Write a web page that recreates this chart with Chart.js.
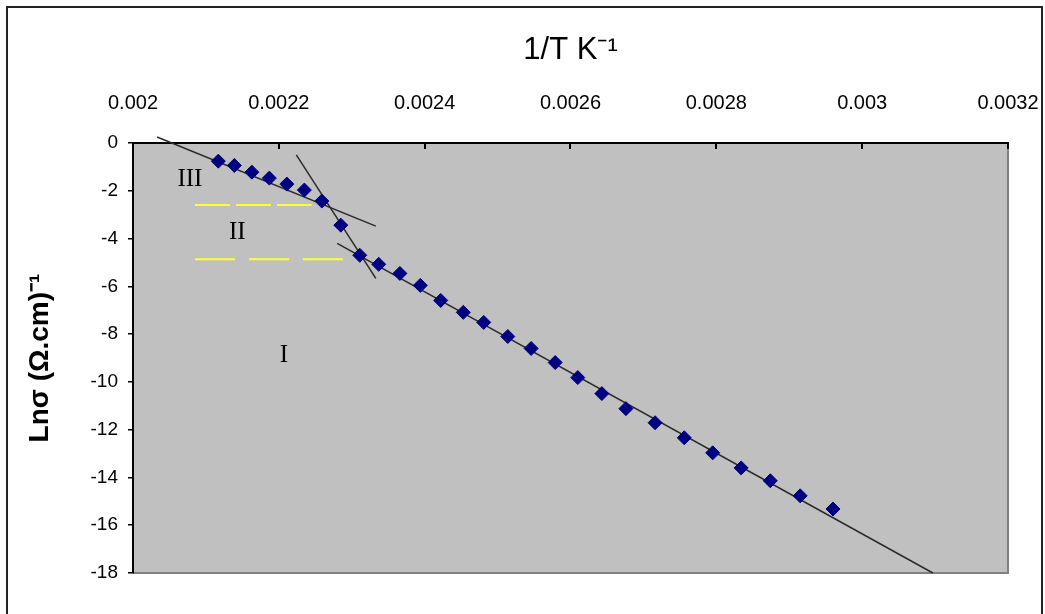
<!DOCTYPE html>
<html>
<head>
<meta charset="utf-8">
<script src="https://cdn.jsdelivr.net/npm/chart.js@4"></script>
<style>
  body { margin: 0; background: #fff; }
  canvas { display: block; }
</style>
</head>
<body>
<canvas id="arrhenius" width="1045" height="614"></canvas>
<script>
// -- THE DATA --

// measured points: 1/T (K^-1) and Ln sigma
const invT = [0.002117, 0.002139, 0.002163, 0.002187, 0.002211, 0.002235, 0.002259,
              0.002285, 0.002311, 0.002337, 0.002366, 0.002394, 0.002422, 0.002453,
              0.002481, 0.002514, 0.002546, 0.002579, 0.002610, 0.002643, 0.002676,
              0.002716, 0.002756, 0.002795, 0.002834, 0.002874, 0.002915, 0.002960];
const lnSigma = [-0.76, -0.94, -1.22, -1.47, -1.72, -1.97, -2.43,
                 -3.44, -4.70, -5.08, -5.46, -5.96, -6.59, -7.09,
                 -7.51, -8.10, -8.60, -9.19, -9.82, -10.49, -11.12,
                 -11.71, -12.34, -12.97, -13.60, -14.14, -14.77, -15.32];

// fitted straight lines (end points) for the three regions
const fitIII = [[0.002033, 0.25], [0.002333, -3.48]];
const fitII  = [[0.002224, -0.50], [0.002333, -5.67]];
const fitI   = [[0.002280, -4.20], [0.003097, -18.0]];

// yellow dashed region limits
const limitUpper = [[0.002085, -2.60], [0.002245, -2.60]];
const limitLower = [[0.002085, -4.87], [0.002288, -4.87]];

// region labels
const regionText = ["III", "II", "I"];
const regionX = [0.002078, 0.002143, 0.002207];
const regionY = [-1.51, -3.73, -8.90];

// axis ticks
const xTicks = [0.002, 0.0022, 0.0024, 0.0026, 0.0028, 0.003, 0.0032];
const yTicks = [0, -2, -4, -6, -8, -10, -12, -14, -16, -18];

const toPoints = arr => arr.map(p => ({ x: p[0], y: p[1] }));

// -- THE CHART --

const framePlugin = {
  id: "frame",
  beforeDraw(chart) {
    const ctx = chart.ctx;
    const a = chart.chartArea;
    ctx.save();
    ctx.fillStyle = "#fff";
    ctx.fillRect(0, 0, chart.width, chart.height);
    // outer box
    ctx.strokeStyle = "#222";
    ctx.lineWidth = 2;
    ctx.strokeRect(7, 7, 1035, 640);
    // plot area
    ctx.fillStyle = "#c0c0c0";
    ctx.fillRect(a.left, a.top, a.right - a.left, a.bottom - a.top);
    ctx.strokeStyle = "#808080";
    ctx.lineWidth = 2;
    ctx.beginPath();
    ctx.moveTo(a.right, a.top);
    ctx.lineTo(a.right, a.bottom);
    ctx.lineTo(a.left, a.bottom);
    ctx.stroke();
    // inner tick marks on the top axis
    const xs = chart.scales.x;
    ctx.strokeStyle = "#000";
    ctx.lineWidth = 2;
    xTicks.forEach(v => {
      const px = Math.round(xs.getPixelForValue(v));
      ctx.beginPath();
      ctx.moveTo(px, a.top);
      ctx.lineTo(px, a.top + 6);
      ctx.stroke();
    });
    ctx.restore();
  },
  afterDatasetsDraw(chart) {
    const ctx = chart.ctx;
    const xs = chart.scales.x, ys = chart.scales.y;
    ctx.save();
    ctx.fillStyle = "#000";
    ctx.font = "25px 'Liberation Serif', serif";
    ctx.textAlign = "center";
    ctx.textBaseline = "middle";
    regionText.forEach((t, i) => {
      ctx.fillText(t, xs.getPixelForValue(regionX[i]), ys.getPixelForValue(regionY[i]));
    });
    ctx.restore();
  }
};

const fitStyle = {
  type: "line",
  borderColor: "#2a2a2a",
  borderWidth: 1.5,
  pointRadius: 0,
  fill: false,
  clip: false
};

const limitStyle = {
  type: "line",
  borderColor: "#ffff33",
  borderWidth: 2,
  pointRadius: 0,
  fill: false
};

new Chart(document.getElementById("arrhenius"), {
  type: "scatter",
  data: {
    datasets: [
      {
        label: "Ln sigma",
        data: invT.map((x, i) => ({ x: x, y: lnSigma[i] })),
        pointStyle: "rectRot",
        pointRadius: 7,
        pointHoverRadius: 7,
        backgroundColor: "#000080",
        borderColor: "#000080",
        borderWidth: 1
      },
      Object.assign({ label: "fit III", data: toPoints(fitIII) }, fitStyle),
      Object.assign({ label: "fit II", data: toPoints(fitII) }, fitStyle),
      Object.assign({ label: "fit I", data: toPoints(fitI) }, fitStyle),
      Object.assign({ label: "limit III/II", data: toPoints(limitUpper), borderDash: [35, 6] }, limitStyle),
      Object.assign({ label: "limit II/I", data: toPoints(limitLower), borderDash: [40, 14] }, limitStyle)
    ]
  },
  options: {
    responsive: false,
    animation: false,
    layout: { padding: { left: 0, top: 0, right: 37, bottom: 41 } },
    plugins: {
      legend: { display: false },
      tooltip: { enabled: false }
    },
    scales: {
      x: {
        type: "linear",
        position: "top",
        min: 0.002,
        max: 0.0032,
        afterBuildTicks: s => { s.ticks = xTicks.map(v => ({ value: v })); },
        afterFit: s => { s.height = 143; s.paddingLeft = 0; s.paddingRight = 0; },
        grid: { display: false },
        border: { display: true, color: "#000", width: 2 },
        ticks: {
          padding: 20,
          color: "#000",
          font: { family: "'Liberation Sans', Arial", size: 20 },
          callback: v => String(parseFloat(v.toFixed(5)))
        },
        title: {
          display: true,
          text: "1/T K⁻¹",
          color: "#000",
          font: { family: "'Liberation Sans', Arial", size: 31 },
          padding: { top: 32, bottom: 0 }
        }
      },
      y: {
        type: "linear",
        min: -18,
        max: 0,
        afterBuildTicks: s => { s.ticks = yTicks.map(v => ({ value: v })); },
        afterFit: s => { s.width = 133; },
        grid: { drawOnChartArea: false, tickLength: 5, color: "#000", lineWidth: 1.5 },
        border: { display: true, color: "#000", width: 2 },
        ticks: {
          padding: 10,
          color: "#000",
          font: { family: "'Liberation Sans', Arial", size: 19 }
        },
        title: {
          display: true,
          text: "Lnσ (Ω.cm)⁻¹",
          color: "#000",
          font: { family: "'Liberation Sans', Arial", size: 28, weight: "bold" },
          padding: { top: 23, bottom: 0 }
        }
      }
    }
  },
  plugins: [framePlugin]
});
</script>
</body>
</html>
